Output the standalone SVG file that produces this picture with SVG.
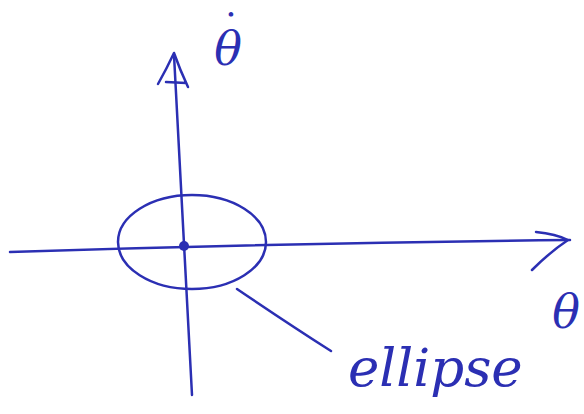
<svg xmlns="http://www.w3.org/2000/svg" width="584" height="414" viewBox="0 0 584 414">
<style>
.ink{fill:none;stroke:#2b2fb3;stroke-width:2.5;stroke-linecap:round;stroke-linejoin:round}
.lbl{fill:#2b2fb3;font-family:"DejaVu Serif",serif;font-style:italic}
</style>
<rect width="584" height="414" fill="#fff"/>
<g id="connectors">
<path class="ink" d="M192 395 Q184 230 174 55"/>
<path class="ink" d="M158 84 Q167 68 174 53 Q180 70 188 87 M166 82 L186 83"/>
<path class="ink" d="M10 252 Q290 243 570 240"/>
<path class="ink" d="M536 232 Q556 234 568 240 Q550 252 532 270"/>
<path class="ink" d="M237 289 Q290 325 331 351"/>
</g>
<g id="ellipse">
<ellipse class="ink" cx="192" cy="242" rx="74" ry="47"/>
<circle cx="184" cy="246" r="5" fill="#2b2fb3"/>
</g>
<g id="label-thetadot">
<text class="lbl" x="228" y="65" font-size="46" text-anchor="middle">θ</text>
<text class="lbl" x="231" y="19" font-size="13" font-weight="bold" text-anchor="middle">•</text>
</g>
<g id="label-theta">
<text class="lbl" x="566" y="328" font-size="46" text-anchor="middle">θ</text>
</g>
<g id="label-ellipse">
<text class="lbl" x="348" y="386" font-size="53">ellipse</text>
</g>
</svg>
